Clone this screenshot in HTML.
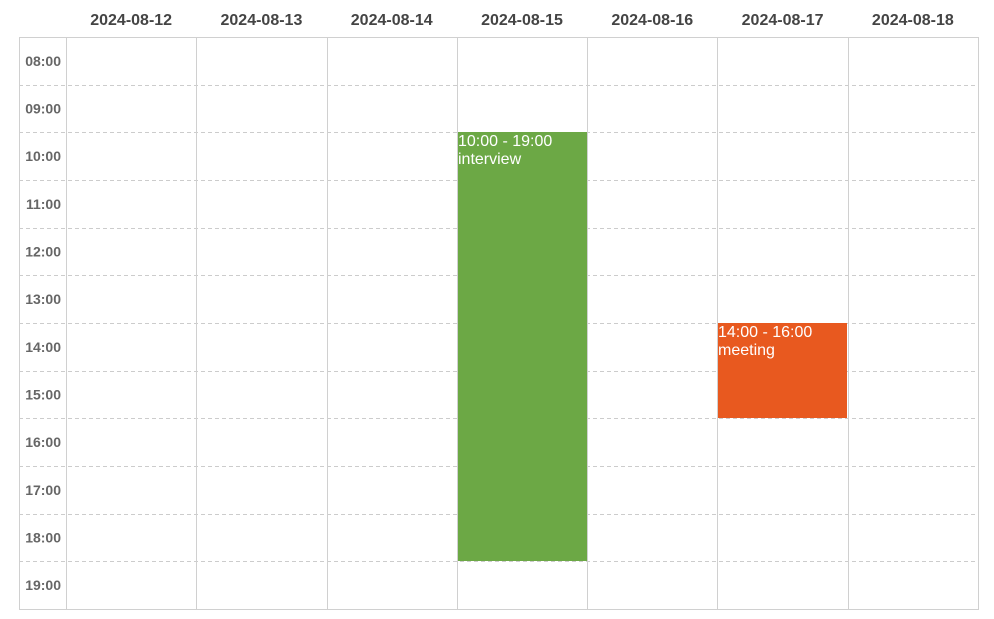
<!DOCTYPE html>
<html><head><meta charset="utf-8"><style>
body{margin:0;background:#fff;font-family:"Liberation Sans",sans-serif;}
svg{display:block}
</style></head><body>
<svg id="cal" width="994" height="619"></svg>
<script>
const days=["2024-08-12","2024-08-13","2024-08-14","2024-08-15","2024-08-16","2024-08-17","2024-08-18"];
const hours=["08:00","09:00","10:00","11:00","12:00","13:00","14:00","15:00","16:00","17:00","18:00","19:00"];
const eventDays=["2024-08-15","2024-08-17"];
const eventStarts=[10,14];
const eventEnds=[19,16];
const eventTitles=["interview","meeting"];
const eventColors=["#6ca845","#e8591f"];

const NS="http://www.w3.org/2000/svg";
const svg=document.getElementById('cal');
const L=19,T=37,R=978,B=609,TC=66;
const colW=(R-TC)/days.length, rowH=(B-T)/hours.length;
const xDay=i=>TC+i*colW;
const yHour=h=>T+(h-8)*rowH;
const px=v=>Math.round(v)+0.5;
function mk(tag,attrs){const e=document.createElementNS(NS,tag);for(const k in attrs)e.setAttribute(k,attrs[k]);svg.appendChild(e);return e;}

days.forEach((d,i)=>{
  const t=mk('text',{x:xDay(i)+colW/2,y:25,'text-anchor':'middle','font-size':16,'font-weight':'bold',fill:'#444'});
  t.textContent=d;
  
  
});
hours.forEach((h,j)=>{
  if(j>0){const ln=mk('line',{x1:L,x2:R,y1:px(T+j*rowH),y2:px(T+j*rowH),stroke:'#ccc','stroke-dasharray':'4,3'});
    
    }
  const t=mk('text',{x:61,y:T+j*rowH+rowH/2+5,'text-anchor':'end','font-size':14,'font-weight':'bold',fill:'#666'});
  t.textContent=h;
  
  
});
for(let i=0;i<=days.length;i++){
  const ln=mk('line',{x1:px(xDay(i)),x2:px(xDay(i)),y1:T,y2:B,stroke:'#d0d0d0'});
  
  
}
const bd=mk('rect',{x:L+0.5,y:T+0.5,width:R-L,height:B-T,fill:'none',stroke:'#d0d0d0'});



eventDays.forEach((d,k)=>{
  const i=days.indexOf(d);
  const x=Math.round(xDay(i))+1,y=Math.round(yHour(eventStarts[k])),h=Math.round(yHour(eventEnds[k]))-y;
  const r=mk('rect',{x:x,y:y,width:Math.round(colW)-1,height:h,fill:eventColors[k]});
  
  
  const pad=n=>String(n).padStart(2,'0')+':00';
  const t1=mk('text',{x:x,y:y+14,'font-size':16,fill:'#fff'});
  t1.textContent=pad(eventStarts[k])+' - '+pad(eventEnds[k]);
  
  
  const t2=mk('text',{x:x,y:y+32,'font-size':16,fill:'#fff'});
  t2.textContent=eventTitles[k];
  
  
});
</script>
</body></html>
